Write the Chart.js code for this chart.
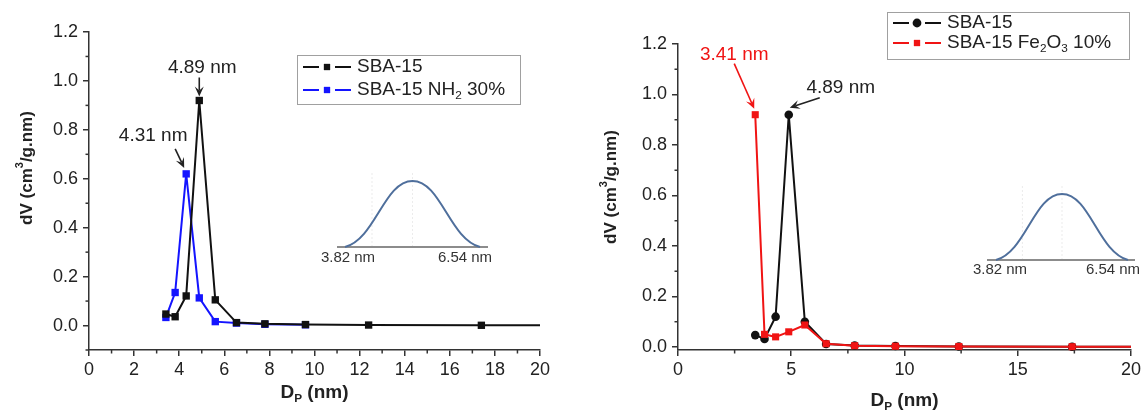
<!DOCTYPE html>
<html>
<head>
<meta charset="utf-8">
<script src="https://cdn.jsdelivr.net/npm/chart.js@4.4.1/dist/chart.umd.min.js"></script>
<style>
  html, body { margin: 0; padding: 0; background: #fff; }
  #wrap { position: relative; width: 1144px; height: 413px; }
  .panel { position: absolute; top: 0; height: 413px; }
  #panelA { left: 0; width: 575px; }
  #panelB { left: 575px; width: 569px; }
</style>
</head>
<body>
<div id="wrap">
  <div class="panel" id="panelA"><canvas id="poresA"></canvas></div>
  <div class="panel" id="panelB"><canvas id="poresB"></canvas></div>
</div>
<script>
// pore diameters (nm), last value runs past the axis end
const diameters = [3.41, 3.82, 4.31, 4.89, 5.6, 6.54, 7.8, 9.6, 12.4, 17.4, 22];

// dV (cm3/g.nm)
const sbaLeft  = [0.047, 0.036, 0.121, 0.92, 0.105, 0.012, 0.007, 0.004, 0.002, 0.001, 0.001];
const sbaNH2   = [0.033, 0.135, 0.62, 0.113, 0.016, 0.010, 0.005, 0.003];
const sbaRight = [0.047, 0.032, 0.12, 0.92, 0.10, 0.012, 0.006, 0.004, 0.002, 0.001, 0.001];
const sbaFe2O3 = [0.92, 0.05, 0.04, 0.06, 0.087, 0.013, 0.005, 0.003, 0.002, 0.001, 0.001];

// tick labels
const yTicks  = [0, 0.2, 0.4, 0.6, 0.8, 1.0, 1.2];
const xTicksA = [0, 2, 4, 6, 8, 10, 12, 14, 16, 18, 20];
const xTicksB = [0, 5, 10, 15, 20];

// labelled peaks and the inset range
const peaksA = [4.89, 4.31];
const peaksB = [3.41, 4.89];
const insetRange = [3.82, 6.54];

const FONT = '"Liberation Sans", Arial, sans-serif';
const INK = '#222';

function toPoints(xs, ys) {
  return ys.map((v, i) => ({ x: xs[i], y: v }));
}

// text with optional subscript pieces, left aligned at (x, y) middle
function drawRich(ctx, parts, x, y, size, color, bold) {
  ctx.fillStyle = color;
  ctx.textBaseline = 'middle';
  ctx.textAlign = 'left';
  let cx = x;
  parts.forEach(p => {
    const s = p.sub ? size * 0.62 : size;
    ctx.font = (bold ? 'bold ' : '') + s + 'px ' + FONT;
    const dy = p.sub ? size * 0.32 : 0;
    ctx.fillText(p.t, cx, y + dy);
    cx += ctx.measureText(p.t).width;
  });
  return cx - x;
}

function richWidth(ctx, parts, size, bold) {
  let w = 0;
  parts.forEach(p => {
    const s = p.sub ? size * 0.62 : size;
    ctx.font = (bold ? 'bold ' : '') + s + 'px ' + FONT;
    w += ctx.measureText(p.t).width;
  });
  return w;
}

function arrow(ctx, x1, y1, x2, y2, color) {
  const ang = Math.atan2(y2 - y1, x2 - x1);
  const head = 10, half = 4.5;
  ctx.strokeStyle = color;
  ctx.fillStyle = color;
  ctx.lineWidth = 1.6;
  ctx.beginPath();
  ctx.moveTo(x1, y1);
  ctx.lineTo(x2 - Math.cos(ang) * head * 0.6, y2 - Math.sin(ang) * head * 0.6);
  ctx.stroke();
  ctx.beginPath();
  ctx.moveTo(x2, y2);
  ctx.lineTo(x2 - Math.cos(ang) * head + Math.sin(ang) * half, y2 - Math.sin(ang) * head - Math.cos(ang) * half);
  ctx.lineTo(x2 - Math.cos(ang) * head * 0.6, y2 - Math.sin(ang) * head * 0.6);
  ctx.lineTo(x2 - Math.cos(ang) * head - Math.sin(ang) * half, y2 - Math.sin(ang) * head + Math.cos(ang) * half);
  ctx.closePath();
  ctx.fill();
}

function marker(ctx, style, x, y, r, color) {
  ctx.fillStyle = color;
  ctx.beginPath();
  if (style === 'circle') ctx.arc(x, y, r, 0, Math.PI * 2);
  else ctx.rect(x - r * 0.72, y - r * 0.72, r * 1.44, r * 1.44);
  ctx.fill();
}

// bell-shaped sketch used as the inset
function drawInset(ctx, box) {
  const { x0, x1, base, top, lineL, lineR, labelY } = box;
  const xp = (x0 + x1) / 2, w = xp - x0;
  ctx.save();
  ctx.strokeStyle = '#ececec';
  ctx.lineWidth = 1;
  ctx.setLineDash([2, 2]);
  [x0 + w * 0.4, xp].forEach(vx => {
    ctx.beginPath();
    ctx.moveTo(vx, top - 8);
    ctx.lineTo(vx, base);
    ctx.stroke();
  });
  ctx.setLineDash([]);
  ctx.strokeStyle = '#8c8c8c';
  ctx.lineWidth = 2;
  ctx.beginPath();
  ctx.moveTo(lineL, base);
  ctx.lineTo(lineR, base);
  ctx.stroke();
  ctx.strokeStyle = '#4f6f9c';
  ctx.lineWidth = 2;
  ctx.beginPath();
  ctx.moveTo(x0, base);
  ctx.bezierCurveTo(x0 + w * 0.45, base - (base - top) * 0.12, xp - w * 0.42, top, xp, top);
  ctx.bezierCurveTo(xp + w * 0.42, top, x1 - w * 0.45, base - (base - top) * 0.12, x1, base);
  ctx.stroke();
  ctx.fillStyle = '#333';
  ctx.font = '15px ' + FONT;
  ctx.textAlign = 'center';
  ctx.textBaseline = 'middle';
  ctx.fillText(insetRange[0].toFixed(2) + ' nm', box.labelL, labelY);
  ctx.fillText(insetRange[1].toFixed(2) + ' nm', box.labelR, labelY);
  ctx.restore();
}

function decorPlugin(opt) {
  return {
    id: 'decor',
    afterDraw(chart) {
      const ctx = chart.ctx;
      const a = chart.chartArea;
      const xs = chart.scales.x, ys = chart.scales.y;
      ctx.save();

      // minor ticks
      ctx.strokeStyle = '#333';
      ctx.lineWidth = 1.5;
      for (let i = 0; i * opt.xMinor <= xs.max + 1e-9; i++) {
        const v = i * opt.xMinor;
        const r = v / opt.xMajor;
        if (Math.abs(r - Math.round(r)) < 1e-6) continue;
        const px = xs.getPixelForValue(v);
        ctx.beginPath();
        ctx.moveTo(px, a.bottom);
        ctx.lineTo(px, a.bottom + 3.5);
        ctx.stroke();
      }
      for (let i = Math.ceil(ys.min / 0.1 - 1e-6); i * 0.1 <= ys.max + 1e-9; i++) {
        if (i % 2 === 0) continue;
        const py = ys.getPixelForValue(i * 0.1);
        ctx.beginPath();
        ctx.moveTo(a.left, py);
        ctx.lineTo(a.left - 3.5, py);
        ctx.stroke();
      }

      // peak call-outs
      opt.notes.forEach(n => {
        const px = xs.getPixelForValue(n.x), py = ys.getPixelForValue(n.y);
        ctx.font = '19px ' + FONT;
        ctx.fillStyle = n.color;
        ctx.textAlign = 'center';
        ctx.textBaseline = 'middle';
        ctx.fillText(n.x.toFixed(2) + ' nm', px + n.text[0], py + n.text[1]);
        arrow(ctx, px + n.from[0], py + n.from[1], px + n.to[0], py + n.to[1], n.color);
      });

      drawInset(ctx, opt.inset);

      // legend
      const L = opt.legend;
      ctx.strokeStyle = '#a0a0a0';
      ctx.lineWidth = 1;
      ctx.strokeRect(L.x + 0.5, L.y + 0.5, L.w, L.h);
      L.rows.forEach((row, i) => {
        const ry = L.rowY[i];
        ctx.strokeStyle = row.color;
        ctx.lineWidth = 1.8;
        ctx.beginPath();
        ctx.moveTo(L.lineX, ry);
        ctx.lineTo(L.lineX + 16, ry);
        ctx.moveTo(L.lineX + 32, ry);
        ctx.lineTo(L.lineX + 48, ry);
        ctx.stroke();
        marker(ctx, row.style, L.lineX + 24, ry, 4.4, row.color);
        drawRich(ctx, row.parts, L.textX, ry, 19, INK, false);
      });

      // axis titles
      const t = opt.titles;
      const yParts = [{ t: 'dV (cm' }, { t: '3', sup: true }, { t: '/g.nm)' }];
      ctx.save();
      ctx.translate(t.yx, t.yy);
      ctx.rotate(-Math.PI / 2);
      let w = 0;
      yParts.forEach(p => {
        ctx.font = 'bold ' + (p.sup ? 11 : 17) + 'px ' + FONT;
        w += ctx.measureText(p.t).width;
      });
      let cx = -w / 2;
      ctx.fillStyle = INK;
      ctx.textAlign = 'left';
      ctx.textBaseline = 'middle';
      yParts.forEach(p => {
        ctx.font = 'bold ' + (p.sup ? 11 : 17) + 'px ' + FONT;
        ctx.fillText(p.t, cx, p.sup ? -7 : 0);
        cx += ctx.measureText(p.t).width;
      });
      ctx.restore();

      const xParts = [{ t: 'D' }, { t: 'P', sub: true }, { t: ' (nm)' }];
      const xw = richWidth(ctx, xParts, 19, true);
      drawRich(ctx, xParts, (a.left + a.right) / 2 - xw / 2, t.xy, 19, INK, true);

      ctx.restore();
    }
  };
}

function axes(xTickVals, yMin, yWidth) {
  const tickFont = { family: FONT, size: 18 };
  const gridOpt = { display: true, drawOnChartArea: false, drawTicks: true, tickLength: 6, color: '#333', lineWidth: 1.5 };
  const borderOpt = { display: true, color: '#333', width: 1.5 };
  return {
    x: {
      type: 'linear', min: 0, max: 20,
      grid: gridOpt, border: borderOpt,
      afterBuildTicks: s => { s.ticks = xTickVals.map(v => ({ value: v })); },
      afterFit: s => { s.height = 63; },
      ticks: { font: tickFont, color: INK, padding: 3, maxRotation: 0, autoSkip: false }
    },
    y: {
      type: 'linear', min: yMin, max: 1.2,
      grid: gridOpt, border: borderOpt,
      afterBuildTicks: s => { s.ticks = yTicks.map(v => ({ value: v })); },
      afterFit: s => { s.width = yWidth; },
      ticks: { font: tickFont, color: INK, padding: 5, callback: v => Number(v).toFixed(1) }
    }
  };
}

function lineSet(label, ys, color, style, radius, order) {
  return {
    label: label,
    data: toPoints(diameters, ys),
    showLine: true,
    borderColor: color,
    backgroundColor: color,
    borderWidth: 2,
    pointStyle: style,
    pointRadius: radius,
    pointHoverRadius: radius,
    pointBorderWidth: 0,
    tension: 0,
    order: order,
    clip: { left: 6, top: 6, right: 0, bottom: 6 }
  };
}

// left panel: SBA-15 vs SBA-15 NH2 30%
new Chart(document.getElementById('poresA'), {
  type: 'scatter',
  data: {
    datasets: [
      lineSet('SBA-15', sbaLeft, '#111', 'rect', 5.2, 0),
      lineSet('SBA-15 NH2 30%', sbaNH2, '#1414ff', 'rect', 5.2, 1)
    ]
  },
  options: {
    responsive: true,
    maintainAspectRatio: false,
    animation: false,
    layout: { padding: { left: 0, right: 35, top: 32, bottom: 0 } },
    scales: axes(xTicksA, -0.1, 89),
    plugins: { legend: { display: false }, tooltip: { enabled: false } }
  },
  plugins: [decorPlugin({
    xMajor: 2, xMinor: 1,
    notes: [
      { x: peaksA[0], y: sbaLeft[3], color: INK, text: [3, -33], from: [0, -23], to: [0, -4] },
      { x: peaksA[1], y: sbaNH2[2], color: INK, text: [-33, -38], from: [-11, -25], to: [-2, -6] }
    ],
    inset: { x0: 345, x1: 480, base: 247, top: 181, lineL: 337, lineR: 488, labelL: 348, labelR: 465, labelY: 258 },
    legend: {
      x: 297, y: 55, w: 223, h: 49, lineX: 303, textX: 357, rowY: [67, 90],
      rows: [
        { color: '#111', style: 'rect', parts: [{ t: 'SBA-15' }] },
        { color: '#1414ff', style: 'rect', parts: [{ t: 'SBA-15 NH' }, { t: '2', sub: true }, { t: ' 30%' }] }
      ]
    },
    titles: { yx: 27, yy: 168, xy: 393 }
  })]
});

// right panel: SBA-15 vs SBA-15 Fe2O3 10%
new Chart(document.getElementById('poresB'), {
  type: 'scatter',
  data: {
    datasets: [
      lineSet('SBA-15', sbaRight, '#111', 'circle', 4.3, 1),
      lineSet('SBA-15 Fe2O3 10%', sbaFe2O3, '#f01414', 'rect', 5.0, 0)
    ]
  },
  options: {
    responsive: true,
    maintainAspectRatio: false,
    animation: false,
    layout: { padding: { left: 0, right: 13, top: 44, bottom: 0 } },
    scales: axes(xTicksB, -0.012, 103),
    plugins: { legend: { display: false }, tooltip: { enabled: false } }
  },
  plugins: [decorPlugin({
    xMajor: 5, xMinor: 2.5,
    notes: [
      { x: peaksB[0], y: sbaFe2O3[0], color: '#f01414', text: [-21, -60], from: [-21, -51], to: [-1, -6] },
      { x: peaksB[1], y: sbaRight[3], color: INK, text: [52, -27], from: [31, -17], to: [1, -7] }
    ],
    inset: { x0: 421, x1: 553, base: 260, top: 194, lineL: 412, lineR: 560, labelL: 425, labelR: 538, labelY: 270 },
    legend: {
      x: 312, y: 12, w: 242, h: 47, lineX: 318, textX: 372, rowY: [23, 43],
      rows: [
        { color: '#111', style: 'circle', parts: [{ t: 'SBA-15' }] },
        { color: '#f01414', style: 'rect', parts: [{ t: 'SBA-15 Fe' }, { t: '2', sub: true }, { t: 'O' }, { t: '3', sub: true }, { t: ' 10%' }] }
      ]
    },
    titles: { yx: 36, yy: 187, xy: 401 }
  })]
});
</script>
</body>
</html>
